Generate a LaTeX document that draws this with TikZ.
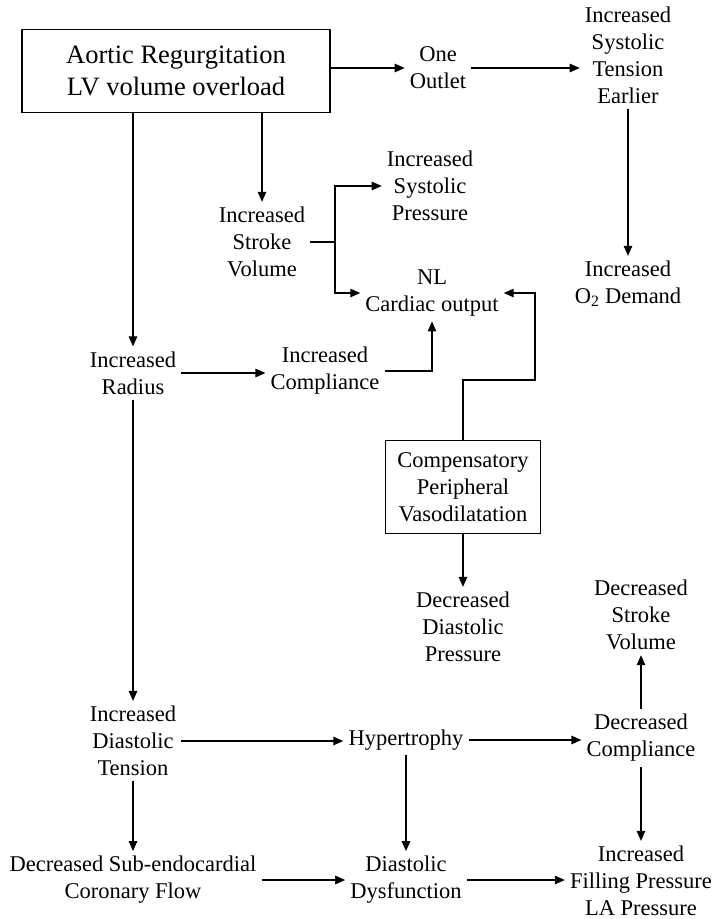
\documentclass[tikz,border=0pt]{standalone}
\usepackage{fontspec}
\setmainfont{Liberation Serif}
\usepackage{tikz}
\usetikzlibrary{arrows.meta,calc}

\begin{document}
\begin{tikzpicture}[x=1pt,y=-1pt,
  lbl/.style={inner sep=5pt,align=center,font=\fontsize{22.5}{27}\selectfont},
  frame/.style={draw=black,line width=1.2pt,inner sep=6pt,align=center,
                font=\fontsize{22.5}{27}\selectfont},
  arr/.style={-{Triangle[length=10pt,width=8.5pt]},line width=1.2pt,draw=black},
  plain/.style={line width=1.2pt,draw=black}
]
\useasboundingbox (0,0) rectangle (714,919);

\node[frame,minimum width=308,minimum height=83,font=\fontsize{26.5}{32}\selectfont] (ar) at (176,71) {Aortic Regurgitation\\LV volume overload};
\node[lbl] (outlet) at (438,68) {One\\Outlet};
\node[lbl] (systen) at (628,55) {Increased\\Systolic\\Tension\\Earlier};
\node[lbl] (otwo) at (628,284) {Increased\\O\textsubscript{2} Demand};

\node[lbl] (incsv) at (262,242) {Increased\\Stroke\\Volume};
\node[lbl] (incsp) at (430,186) {Increased\\Systolic\\Pressure};
\node[lbl] (nlco) at (432,293) {NL\\Cardiac output};

\node[lbl] (radius) at (133,373) {Increased\\Radius};
\node[lbl] (inccomp) at (325,371) {Increased\\Compliance};
\node[frame,minimum width=155,minimum height=93] (vaso) at (463,487) {Compensatory\\Peripheral\\Vasodilatation};
\node[lbl] (decdp) at (463,627) {Decreased\\Diastolic\\Pressure};
\node[lbl] (decsv) at (641,615) {Decreased\\Stroke\\Volume};

\node[lbl] (incdt) at (133,741) {Increased\\Diastolic\\Tension};
\node[lbl] (hyper) at (406,740) {Hypertrophy};
\node[lbl] (deccomp) at (641,738) {Decreased\\Compliance};
\node[lbl] (subendo) at (133,880) {Decreased Sub-endocardial\\Coronary Flow};
\node[lbl] (dysf) at (406,880) {Diastolic\\Dysfunction};
\node[lbl] (filling) at (641,881) {Increased\\Filling Pressure\\LA Pressure};

\coordinate (svsplit) at (335,242);
\coordinate (vasoturn) at (535,380);

\draw[arr] (ar.east |- outlet.west) -- (outlet.west);
\draw[arr] (outlet.east) -- (outlet.east -| systen.west);
\draw[arr] (systen.south) -- (otwo.north);
\draw[arr] (ar.south -| incsv.north) -- (incsv.north);
\draw[plain] (incsv.east) -- (svsplit);
\draw[arr] (svsplit) |- (incsp.west);
\draw[arr] (svsplit) |- (nlco.west);
\draw[arr] (vaso.north) |- (vasoturn) |- (nlco.east);
\draw[arr] (ar.south -| radius.north) -- (radius.north);
\draw[arr] (radius.east) -- (radius.east -| inccomp.west);
\draw[arr] (inccomp.east) -| (nlco.south);
\draw[arr] (vaso.south) -- (decdp.north);
\draw[arr] (radius.south) -- (incdt.north);
\draw[arr] (incdt.east) -- (incdt.east -| hyper.west);
\draw[arr] (hyper.east) -- (hyper.east -| deccomp.west);
\draw[arr] (deccomp.north) -- (decsv.south);
\draw[arr] (deccomp.south) -- (filling.north);
\draw[arr] (incdt.south) -- (subendo.north);
\draw[arr] (hyper.south) -- (dysf.north);
\draw[arr] (subendo.east) -- (subendo.east -| dysf.west);
\draw[arr] (dysf.east) -- (dysf.east -| filling.west);
\end{tikzpicture}
\end{document}
